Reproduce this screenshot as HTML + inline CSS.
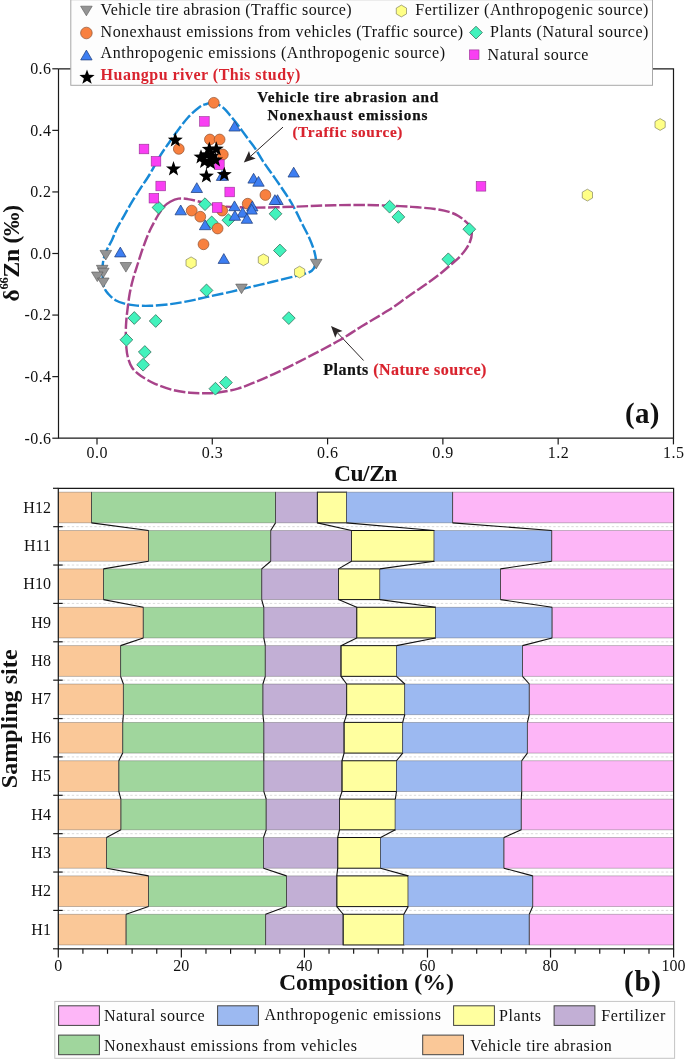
<!DOCTYPE html>
<html><head><meta charset="utf-8"><title>Figure</title><style>html,body{margin:0;padding:0;background:#fff;}svg{display:block;will-change:transform;}text{font-family:"Liberation Serif", serif;}</style></head><body>
<svg width="685" height="1059" viewBox="0 0 685 1059" font-family='"Liberation Serif", serif'>
<rect width="685" height="1059" fill="#fff"/>
<line x1="283.0" y1="127.1" x2="250.64" y2="156.24" stroke="#2b2626" stroke-width="1.0"/>
<polygon points="243.8,162.4 249.00,150.99 250.64,156.24 255.69,158.42" fill="#2b2626"/>
<line x1="363.6" y1="360.5" x2="337.32" y2="332.69" stroke="#2b2626" stroke-width="1.0"/>
<polygon points="331.0,326.0 342.53,330.92 337.32,332.69 335.26,337.79" fill="#2b2626"/>
<path d="M213.50,102.60 C215.83,102.90 218.58,104.68 220.50,105.80 C222.42,106.92 223.28,107.57 225.00,109.30 C226.72,111.03 228.85,113.85 230.80,116.20 C232.75,118.55 234.83,121.00 236.70,123.40 C238.57,125.80 240.03,127.92 242.00,130.60 C243.97,133.28 246.30,136.52 248.50,139.50 C250.70,142.48 252.80,144.90 255.20,148.50 C257.60,152.10 260.07,156.80 262.90,161.10 C265.73,165.40 269.12,169.90 272.20,174.30 C275.28,178.70 278.55,183.32 281.40,187.50 C284.25,191.68 286.87,195.43 289.30,199.40 C291.73,203.37 293.80,207.12 296.00,211.30 C298.20,215.48 300.30,220.10 302.50,224.50 C304.70,228.90 307.32,233.52 309.20,237.70 C311.08,241.88 312.70,246.07 313.80,249.60 C314.90,253.13 315.58,256.25 315.80,258.90 C316.02,261.55 315.77,263.52 315.10,265.50 C314.43,267.48 313.45,269.45 311.80,270.80 C310.15,272.15 308.07,272.68 305.20,273.60 C302.33,274.52 300.03,274.93 294.60,276.30 C289.17,277.67 279.67,280.08 272.60,281.80 C265.53,283.52 259.02,284.97 252.20,286.60 C245.38,288.23 239.20,289.88 231.70,291.60 C224.20,293.32 214.00,295.40 207.20,296.90 C200.40,298.40 197.03,299.40 190.90,300.60 C184.77,301.80 177.22,303.23 170.40,304.10 C163.58,304.97 155.90,305.58 150.00,305.80 C144.10,306.02 139.25,305.77 135.00,305.40 C130.75,305.03 127.75,304.47 124.50,303.60 C121.25,302.73 118.18,301.80 115.50,300.20 C112.82,298.60 110.28,296.12 108.40,294.00 C106.52,291.88 105.17,290.50 104.20,287.50 C103.23,284.50 102.85,279.75 102.60,276.00 C102.35,272.25 102.42,268.25 102.70,265.00 C102.98,261.75 103.50,259.25 104.30,256.50 C105.10,253.75 106.22,251.25 107.50,248.50 C108.78,245.75 110.43,243.35 112.00,240.00 C113.57,236.65 114.85,232.52 116.90,228.40 C118.95,224.28 121.82,219.67 124.30,215.30 C126.78,210.93 129.13,206.65 131.80,202.20 C134.47,197.75 137.38,193.13 140.30,188.60 C143.22,184.07 145.95,180.53 149.30,175.00 C152.65,169.47 157.20,160.65 160.40,155.40 C163.60,150.15 165.73,147.48 168.50,143.50 C171.27,139.52 173.75,135.83 177.00,131.50 C180.25,127.17 184.28,121.55 188.00,117.50 C191.72,113.45 196.22,109.45 199.30,107.20 C202.38,104.95 204.13,104.77 206.50,104.00 C208.87,103.23 211.17,102.30 213.50,102.60 Z" fill="none" stroke="#1789D6" stroke-width="2.45" stroke-dasharray="11.5 2.7" stroke-dashoffset="4.0"/>
<path d="M170.20,201.70 C172.60,200.38 175.48,199.03 178.40,198.60 C181.32,198.17 184.10,198.58 187.70,199.10 C191.30,199.62 195.95,200.80 200.00,201.70 C204.05,202.60 207.83,203.68 212.00,204.50 C216.17,205.32 217.83,206.08 225.00,206.60 C232.17,207.12 243.40,207.58 255.00,207.60 C266.60,207.62 282.93,207.07 294.60,206.70 C306.27,206.33 314.93,205.68 325.00,205.40 C335.07,205.12 346.03,205.02 355.00,205.00 C363.97,204.98 371.30,205.12 378.80,205.30 C386.30,205.48 393.55,205.77 400.00,206.10 C406.45,206.43 411.67,206.82 417.50,207.30 C423.33,207.78 429.75,208.23 435.00,209.00 C440.25,209.77 445.10,210.73 449.00,211.90 C452.90,213.07 455.67,214.43 458.40,216.00 C461.13,217.57 463.47,219.55 465.40,221.30 C467.33,223.05 468.93,224.47 470.00,226.50 C471.07,228.53 471.80,230.97 471.80,233.50 C471.80,236.03 471.07,238.97 470.00,241.70 C468.93,244.43 467.33,247.17 465.40,249.90 C463.47,252.63 460.73,255.72 458.40,258.10 C456.07,260.48 454.32,261.68 451.40,264.20 C448.48,266.72 444.60,270.23 440.90,273.20 C437.20,276.17 433.28,279.07 429.20,282.00 C425.12,284.93 420.48,287.97 416.40,290.80 C412.32,293.63 409.50,295.67 404.70,299.00 C399.90,302.33 394.82,306.22 387.60,310.80 C380.38,315.38 369.27,321.68 361.40,326.50 C353.53,331.32 349.17,334.67 340.40,339.70 C331.63,344.73 318.45,351.67 308.80,356.70 C299.15,361.73 291.25,365.73 282.50,369.90 C273.75,374.07 263.73,378.58 256.30,381.70 C248.87,384.82 244.27,386.78 237.90,388.60 C231.53,390.42 223.73,391.82 218.10,392.60 C212.47,393.38 208.77,393.27 204.10,393.30 C199.43,393.33 195.35,393.37 190.10,392.80 C184.85,392.23 178.45,391.40 172.60,389.90 C166.75,388.40 160.27,386.13 155.00,383.80 C149.73,381.47 144.78,378.53 141.00,375.90 C137.22,373.27 134.48,371.07 132.30,368.00 C130.12,364.93 128.90,361.00 127.90,357.50 C126.90,354.00 126.65,351.25 126.30,347.00 C125.95,342.75 125.80,336.38 125.80,332.00 C125.80,327.62 126.02,324.47 126.30,320.70 C126.58,316.93 126.93,313.93 127.50,309.40 C128.07,304.87 128.77,298.60 129.70,293.50 C130.63,288.40 131.77,283.72 133.10,278.80 C134.43,273.88 136.00,269.30 137.70,264.00 C139.40,258.70 141.23,252.67 143.30,247.00 C145.37,241.33 147.57,235.42 150.10,230.00 C152.63,224.58 156.18,218.42 158.50,214.50 C160.82,210.58 162.05,208.63 164.00,206.50 C165.95,204.37 167.80,203.02 170.20,201.70 Z" fill="none" stroke="#A8438A" stroke-width="2.45" stroke-dasharray="11.5 2.7" stroke-dashoffset="0.0"/>
<polygon points="100.00,250.40 111.60,250.40 105.80,260.00" fill="#949494" stroke="#555555" stroke-width="0.6"/>
<polygon points="96.40,265.30 108.00,265.30 102.20,274.90" fill="#949494" stroke="#555555" stroke-width="0.6"/>
<polygon points="97.50,268.20 109.10,268.20 103.30,277.80" fill="#949494" stroke="#555555" stroke-width="0.6"/>
<polygon points="91.50,272.00 103.10,272.00 97.30,281.60" fill="#949494" stroke="#555555" stroke-width="0.6"/>
<polygon points="97.50,278.00 109.10,278.00 103.30,287.60" fill="#949494" stroke="#555555" stroke-width="0.6"/>
<polygon points="120.10,262.50 131.70,262.50 125.90,272.10" fill="#949494" stroke="#555555" stroke-width="0.6"/>
<polygon points="235.70,284.10 247.30,284.10 241.50,293.70" fill="#949494" stroke="#555555" stroke-width="0.6"/>
<polygon points="310.40,259.30 322.00,259.30 316.20,268.90" fill="#949494" stroke="#555555" stroke-width="0.6"/>
<polygon points="191.10,256.90 185.99,259.85 185.99,265.75 191.10,268.70 196.21,265.75 196.21,259.85" fill="#FFFF86" stroke="#707050" stroke-width="0.6"/>
<polygon points="263.40,253.90 258.29,256.85 258.29,262.75 263.40,265.70 268.51,262.75 268.51,256.85" fill="#FFFF86" stroke="#707050" stroke-width="0.6"/>
<polygon points="299.60,266.20 294.49,269.15 294.49,275.05 299.60,278.00 304.71,275.05 304.71,269.15" fill="#FFFF86" stroke="#707050" stroke-width="0.6"/>
<polygon points="587.40,189.20 582.29,192.15 582.29,198.05 587.40,201.00 592.51,198.05 592.51,192.15" fill="#FFFF86" stroke="#707050" stroke-width="0.6"/>
<polygon points="660.10,118.60 654.99,121.55 654.99,127.45 660.10,130.40 665.21,127.45 665.21,121.55" fill="#FFFF86" stroke="#707050" stroke-width="0.6"/>
<polygon points="158.50,201.10 164.90,207.50 158.50,213.90 152.10,207.50" fill="#42F2BC" stroke="#2a5e4c" stroke-width="0.7"/>
<polygon points="205.00,197.80 211.40,204.20 205.00,210.60 198.60,204.20" fill="#42F2BC" stroke="#2a5e4c" stroke-width="0.7"/>
<polygon points="211.70,216.00 218.10,222.40 211.70,228.80 205.30,222.40" fill="#42F2BC" stroke="#2a5e4c" stroke-width="0.7"/>
<polygon points="228.40,213.80 234.80,220.20 228.40,226.60 222.00,220.20" fill="#42F2BC" stroke="#2a5e4c" stroke-width="0.7"/>
<polygon points="275.50,207.40 281.90,213.80 275.50,220.20 269.10,213.80" fill="#42F2BC" stroke="#2a5e4c" stroke-width="0.7"/>
<polygon points="279.90,244.10 286.30,250.50 279.90,256.90 273.50,250.50" fill="#42F2BC" stroke="#2a5e4c" stroke-width="0.7"/>
<polygon points="206.50,284.00 212.90,290.40 206.50,296.80 200.10,290.40" fill="#42F2BC" stroke="#2a5e4c" stroke-width="0.7"/>
<polygon points="288.80,311.70 295.20,318.10 288.80,324.50 282.40,318.10" fill="#42F2BC" stroke="#2a5e4c" stroke-width="0.7"/>
<polygon points="134.30,311.60 140.70,318.00 134.30,324.40 127.90,318.00" fill="#42F2BC" stroke="#2a5e4c" stroke-width="0.7"/>
<polygon points="155.70,314.60 162.10,321.00 155.70,327.40 149.30,321.00" fill="#42F2BC" stroke="#2a5e4c" stroke-width="0.7"/>
<polygon points="126.40,333.40 132.80,339.80 126.40,346.20 120.00,339.80" fill="#42F2BC" stroke="#2a5e4c" stroke-width="0.7"/>
<polygon points="144.80,345.60 151.20,352.00 144.80,358.40 138.40,352.00" fill="#42F2BC" stroke="#2a5e4c" stroke-width="0.7"/>
<polygon points="143.10,358.30 149.50,364.70 143.10,371.10 136.70,364.70" fill="#42F2BC" stroke="#2a5e4c" stroke-width="0.7"/>
<polygon points="215.40,382.30 221.80,388.70 215.40,395.10 209.00,388.70" fill="#42F2BC" stroke="#2a5e4c" stroke-width="0.7"/>
<polygon points="225.90,376.20 232.30,382.60 225.90,389.00 219.50,382.60" fill="#42F2BC" stroke="#2a5e4c" stroke-width="0.7"/>
<polygon points="389.60,200.30 396.00,206.70 389.60,213.10 383.20,206.70" fill="#42F2BC" stroke="#2a5e4c" stroke-width="0.7"/>
<polygon points="398.40,210.50 404.80,216.90 398.40,223.30 392.00,216.90" fill="#42F2BC" stroke="#2a5e4c" stroke-width="0.7"/>
<polygon points="469.30,222.80 475.70,229.20 469.30,235.60 462.90,229.20" fill="#42F2BC" stroke="#2a5e4c" stroke-width="0.7"/>
<polygon points="448.30,252.90 454.70,259.30 448.30,265.70 441.90,259.30" fill="#42F2BC" stroke="#2a5e4c" stroke-width="0.7"/>
<rect x="199.60" y="116.60" width="9.6" height="9.6" fill="#F93FF3" stroke="#93308F" stroke-width="0.6"/>
<rect x="139.20" y="144.20" width="9.6" height="9.6" fill="#F93FF3" stroke="#93308F" stroke-width="0.6"/>
<rect x="151.20" y="156.50" width="9.6" height="9.6" fill="#F93FF3" stroke="#93308F" stroke-width="0.6"/>
<rect x="155.90" y="181.20" width="9.6" height="9.6" fill="#F93FF3" stroke="#93308F" stroke-width="0.6"/>
<rect x="149.10" y="193.40" width="9.6" height="9.6" fill="#F93FF3" stroke="#93308F" stroke-width="0.6"/>
<rect x="224.90" y="187.20" width="9.6" height="9.6" fill="#F93FF3" stroke="#93308F" stroke-width="0.6"/>
<rect x="476.20" y="181.50" width="9.6" height="9.6" fill="#F93FF3" stroke="#93308F" stroke-width="0.6"/>
<circle cx="213.8" cy="102.8" r="5.4" fill="#F8803F" stroke="#8E5030" stroke-width="0.7"/>
<circle cx="209.9" cy="139.5" r="5.4" fill="#F8803F" stroke="#8E5030" stroke-width="0.7"/>
<circle cx="219.6" cy="139.5" r="5.4" fill="#F8803F" stroke="#8E5030" stroke-width="0.7"/>
<circle cx="178.8" cy="148.9" r="5.4" fill="#F8803F" stroke="#8E5030" stroke-width="0.7"/>
<circle cx="222.8" cy="154.5" r="5.4" fill="#F8803F" stroke="#8E5030" stroke-width="0.7"/>
<circle cx="265.4" cy="195.0" r="5.4" fill="#F8803F" stroke="#8E5030" stroke-width="0.7"/>
<circle cx="247.7" cy="203.7" r="5.4" fill="#F8803F" stroke="#8E5030" stroke-width="0.7"/>
<circle cx="191.7" cy="210.6" r="5.4" fill="#F8803F" stroke="#8E5030" stroke-width="0.7"/>
<circle cx="200.3" cy="216.7" r="5.4" fill="#F8803F" stroke="#8E5030" stroke-width="0.7"/>
<circle cx="222.2" cy="210.6" r="5.4" fill="#F8803F" stroke="#8E5030" stroke-width="0.7"/>
<circle cx="217.6" cy="228.5" r="5.4" fill="#F8803F" stroke="#8E5030" stroke-width="0.7"/>
<circle cx="203.5" cy="244.3" r="5.4" fill="#F8803F" stroke="#8E5030" stroke-width="0.7"/>
<rect x="212.40" y="202.70" width="9.6" height="9.6" fill="#F93FF3" stroke="#93308F" stroke-width="0.6"/>
<rect x="214.60" y="159.80" width="9.6" height="9.6" fill="#F93FF3" stroke="#93308F" stroke-width="0.6"/>
<polygon points="228.90,131.00 240.30,131.00 234.60,121.20" fill="#3D7EF2" stroke="#22407e" stroke-width="0.75"/>
<polygon points="288.00,177.00 299.40,177.00 293.70,167.20" fill="#3D7EF2" stroke="#22407e" stroke-width="0.75"/>
<polygon points="247.90,183.10 259.30,183.10 253.60,173.30" fill="#3D7EF2" stroke="#22407e" stroke-width="0.75"/>
<polygon points="252.80,186.20 264.20,186.20 258.50,176.40" fill="#3D7EF2" stroke="#22407e" stroke-width="0.75"/>
<polygon points="191.10,192.50 202.50,192.50 196.80,182.70" fill="#3D7EF2" stroke="#22407e" stroke-width="0.75"/>
<polygon points="271.80,204.50 283.20,204.50 277.50,194.70" fill="#3D7EF2" stroke="#22407e" stroke-width="0.75"/>
<polygon points="269.20,204.50 280.60,204.50 274.90,194.70" fill="#3D7EF2" stroke="#22407e" stroke-width="0.75"/>
<polygon points="228.80,210.70 240.20,210.70 234.50,200.90" fill="#3D7EF2" stroke="#22407e" stroke-width="0.75"/>
<polygon points="246.60,210.90 258.00,210.90 252.30,201.10" fill="#3D7EF2" stroke="#22407e" stroke-width="0.75"/>
<polygon points="245.90,214.10 257.30,214.10 251.60,204.30" fill="#3D7EF2" stroke="#22407e" stroke-width="0.75"/>
<polygon points="236.90,217.20 248.30,217.20 242.60,207.40" fill="#3D7EF2" stroke="#22407e" stroke-width="0.75"/>
<polygon points="229.20,220.30 240.60,220.30 234.90,210.50" fill="#3D7EF2" stroke="#22407e" stroke-width="0.75"/>
<polygon points="241.20,223.30 252.60,223.30 246.90,213.50" fill="#3D7EF2" stroke="#22407e" stroke-width="0.75"/>
<polygon points="199.40,229.70 210.80,229.70 205.10,219.90" fill="#3D7EF2" stroke="#22407e" stroke-width="0.75"/>
<polygon points="175.00,214.80 186.40,214.80 180.70,205.00" fill="#3D7EF2" stroke="#22407e" stroke-width="0.75"/>
<polygon points="218.10,263.40 229.50,263.40 223.80,253.60" fill="#3D7EF2" stroke="#22407e" stroke-width="0.75"/>
<polygon points="114.60,256.90 126.00,256.90 120.30,247.10" fill="#3D7EF2" stroke="#22407e" stroke-width="0.75"/>
<polygon points="216.30,180.40 227.70,180.40 222.00,170.60" fill="#3D7EF2" stroke="#22407e" stroke-width="0.75"/>
<polygon points="175.30,132.30 173.40,137.58 167.79,137.76 172.22,141.20 170.66,146.59 175.30,143.44 179.94,146.59 178.38,141.20 182.81,137.76 177.20,137.58" fill="#000"/>
<polygon points="173.50,161.10 171.60,166.38 165.99,166.56 170.42,170.00 168.86,175.39 173.50,172.24 178.14,175.39 176.58,170.00 181.01,166.56 175.40,166.38" fill="#000"/>
<polygon points="206.40,168.30 204.50,173.58 198.89,173.76 203.32,177.20 201.76,182.59 206.40,179.44 211.04,182.59 209.48,177.20 213.91,173.76 208.30,173.58" fill="#000"/>
<polygon points="224.30,166.70 222.40,171.98 216.79,172.16 221.22,175.60 219.66,180.99 224.30,177.84 228.94,180.99 227.38,175.60 231.81,172.16 226.20,171.98" fill="#000"/>
<polygon points="209.30,141.50 207.40,146.78 201.79,146.96 206.22,150.40 204.66,155.79 209.30,152.64 213.94,155.79 212.38,150.40 216.81,146.96 211.20,146.78" fill="#000"/>
<polygon points="216.30,141.20 214.40,146.48 208.79,146.66 213.22,150.10 211.66,155.49 216.30,152.34 220.94,155.49 219.38,150.10 223.81,146.66 218.20,146.48" fill="#000"/>
<polygon points="201.00,149.20 199.10,154.48 193.49,154.66 197.92,158.10 196.36,163.49 201.00,160.34 205.64,163.49 204.08,158.10 208.51,154.66 202.90,154.48" fill="#000"/>
<polygon points="206.80,147.00 204.90,152.28 199.29,152.46 203.72,155.90 202.16,161.29 206.80,158.14 211.44,161.29 209.88,155.90 214.31,152.46 208.70,152.28" fill="#000"/>
<polygon points="211.90,148.40 210.00,153.68 204.39,153.86 208.82,157.30 207.26,162.69 211.90,159.54 216.54,162.69 214.98,157.30 219.41,153.86 213.80,153.68" fill="#000"/>
<polygon points="204.60,153.60 202.70,158.88 197.09,159.06 201.52,162.50 199.96,167.89 204.60,164.74 209.24,167.89 207.68,162.50 212.11,159.06 206.50,158.88" fill="#000"/>
<polygon points="210.40,155.00 208.50,160.28 202.89,160.46 207.32,163.90 205.76,169.29 210.40,166.14 215.04,169.29 213.48,163.90 217.91,160.46 212.30,160.28" fill="#000"/>
<polygon points="215.50,152.10 213.60,157.38 207.99,157.56 212.42,161.00 210.86,166.39 215.50,163.24 220.14,166.39 218.58,161.00 223.01,157.56 217.40,157.38" fill="#000"/>
<path d="M58.5,68.8 L58.5,438.2 L673.5,438.2 L673.5,68.8 L58.5,68.8" fill="none" stroke="#1a1a1a" stroke-width="1.2"/>
<line x1="52.3" y1="68.80" x2="58.5" y2="68.80" stroke="#1a1a1a" stroke-width="1.2"/>
<text x="51.0" y="74.10" font-size="16" font-weight="normal" fill="#111" text-anchor="end" textLength="20.8" lengthAdjust="spacing">0.6</text>
<line x1="52.3" y1="130.37" x2="58.5" y2="130.37" stroke="#1a1a1a" stroke-width="1.2"/>
<text x="51.0" y="135.67" font-size="16" font-weight="normal" fill="#111" text-anchor="end" textLength="20.8" lengthAdjust="spacing">0.4</text>
<line x1="52.3" y1="191.93" x2="58.5" y2="191.93" stroke="#1a1a1a" stroke-width="1.2"/>
<text x="51.0" y="197.23" font-size="16" font-weight="normal" fill="#111" text-anchor="end" textLength="20.8" lengthAdjust="spacing">0.2</text>
<line x1="52.3" y1="253.50" x2="58.5" y2="253.50" stroke="#1a1a1a" stroke-width="1.2"/>
<text x="51.0" y="258.80" font-size="16" font-weight="normal" fill="#111" text-anchor="end" textLength="20.8" lengthAdjust="spacing">0.0</text>
<line x1="52.3" y1="315.07" x2="58.5" y2="315.07" stroke="#1a1a1a" stroke-width="1.2"/>
<text x="51.0" y="320.37" font-size="16" font-weight="normal" fill="#111" text-anchor="end" textLength="26.4" lengthAdjust="spacing">-0.2</text>
<line x1="52.3" y1="376.63" x2="58.5" y2="376.63" stroke="#1a1a1a" stroke-width="1.2"/>
<text x="51.0" y="381.93" font-size="16" font-weight="normal" fill="#111" text-anchor="end" textLength="26.4" lengthAdjust="spacing">-0.4</text>
<line x1="52.3" y1="438.20" x2="58.5" y2="438.20" stroke="#1a1a1a" stroke-width="1.2"/>
<text x="51.0" y="443.50" font-size="16" font-weight="normal" fill="#111" text-anchor="end" textLength="26.4" lengthAdjust="spacing">-0.6</text>
<line x1="97.00" y1="438.2" x2="97.00" y2="444.4" stroke="#1a1a1a" stroke-width="1.2"/>
<text x="97.00" y="458.0" font-size="16" font-weight="normal" fill="#111" text-anchor="middle" textLength="21" lengthAdjust="spacing">0.0</text>
<line x1="212.29" y1="438.2" x2="212.29" y2="444.4" stroke="#1a1a1a" stroke-width="1.2"/>
<text x="212.29" y="458.0" font-size="16" font-weight="normal" fill="#111" text-anchor="middle" textLength="21" lengthAdjust="spacing">0.3</text>
<line x1="327.58" y1="438.2" x2="327.58" y2="444.4" stroke="#1a1a1a" stroke-width="1.2"/>
<text x="327.58" y="458.0" font-size="16" font-weight="normal" fill="#111" text-anchor="middle" textLength="21" lengthAdjust="spacing">0.6</text>
<line x1="442.87" y1="438.2" x2="442.87" y2="444.4" stroke="#1a1a1a" stroke-width="1.2"/>
<text x="442.87" y="458.0" font-size="16" font-weight="normal" fill="#111" text-anchor="middle" textLength="21" lengthAdjust="spacing">0.9</text>
<line x1="558.16" y1="438.2" x2="558.16" y2="444.4" stroke="#1a1a1a" stroke-width="1.2"/>
<text x="558.16" y="458.0" font-size="16" font-weight="normal" fill="#111" text-anchor="middle" textLength="21" lengthAdjust="spacing">1.2</text>
<line x1="673.45" y1="438.2" x2="673.45" y2="444.4" stroke="#1a1a1a" stroke-width="1.2"/>
<text x="673.45" y="458.0" font-size="16" font-weight="normal" fill="#111" text-anchor="middle" textLength="21" lengthAdjust="spacing">1.5</text>
<text x="365.7" y="481.0" font-size="23.5" font-weight="bold" fill="#111" text-anchor="middle" textLength="63.5" lengthAdjust="spacing">Cu/Zn</text>
<text transform="translate(18.6,253.2) rotate(-90)" text-anchor="middle" font-size="23.5" font-weight="bold" fill="#111" textLength="96.6" lengthAdjust="spacing">&#948;<tspan font-size="12.5" dy="-10.5">66</tspan><tspan dy="10.5">Zn (&#8240;)</tspan></text>
<text x="659.5" y="422.7" font-size="29" font-weight="bold" fill="#111" text-anchor="end" textLength="34.5" lengthAdjust="spacing">(a)</text>
<text x="347.8" y="101.9" font-size="15.2" font-weight="bold" fill="#111" text-anchor="middle" textLength="181" lengthAdjust="spacing" stroke="#111" stroke-width="0.25">Vehicle tire abrasion and</text>
<text x="347.5" y="119.7" font-size="15.2" font-weight="bold" fill="#111" text-anchor="middle" textLength="160" lengthAdjust="spacing" stroke="#111" stroke-width="0.25">Nonexhaust emissions</text>
<text x="347.4" y="137.4" font-size="15.2" font-weight="bold" fill="#D9232E" text-anchor="middle" textLength="110" lengthAdjust="spacing" stroke="#D9232E" stroke-width="0.2">(Traffic source)</text>
<text x="323.3" y="375.0" font-size="16" font-weight="bold" fill="#111" stroke="#111" stroke-width="0.2" textLength="163" lengthAdjust="spacing">Plants <tspan fill="#D9232E" stroke="#D9232E">(Nature source)</tspan></text>
<rect x="70.8" y="-0.3" width="581.7" height="85.6" fill="#fdfdfd" stroke="#a8a8a8" stroke-width="1"/>
<polygon points="80.60,6.20 92.20,6.20 86.40,15.80" fill="#949494" stroke="#555555" stroke-width="0.6"/>
<circle cx="86.4" cy="33.0" r="5.8" fill="#F8803F" stroke="#8E5030" stroke-width="0.7"/>
<polygon points="80.70,59.90 92.10,59.90 86.40,50.10" fill="#3D7EF2" stroke="#22407e" stroke-width="0.75"/>
<polygon points="87.00,69.40 85.07,74.75 79.39,74.93 83.88,78.41 82.30,83.87 87.00,80.68 91.70,83.87 90.12,78.41 94.61,74.93 88.93,74.75" fill="#000"/>
<polygon points="401.40,5.10 396.29,8.05 396.29,13.95 401.40,16.90 406.51,13.95 406.51,8.05" fill="#FFFF86" stroke="#707050" stroke-width="0.6"/>
<polygon points="476.00,26.20 482.40,32.60 476.00,39.00 469.60,32.60" fill="#42F2BC" stroke="#2a5e4c" stroke-width="0.7"/>
<rect x="469.40" y="49.90" width="9.6" height="9.6" fill="#F93FF3" stroke="#93308F" stroke-width="0.6"/>
<text x="100.6" y="14.9" font-size="16" font-weight="normal" fill="#111" text-anchor="start" textLength="251" lengthAdjust="spacing">Vehicle tire abrasion (Traffic source)</text>
<text x="100.6" y="36.5" font-size="16" font-weight="normal" fill="#111" text-anchor="start" textLength="362.6" lengthAdjust="spacing">Nonexhaust emissions from vehicles (Traffic source)</text>
<text x="100.6" y="58.2" font-size="16" font-weight="normal" fill="#111" text-anchor="start" textLength="344.4" lengthAdjust="spacing">Anthropogenic emissions (Anthropogenic source)</text>
<text x="100.6" y="79.7" font-size="16" font-weight="bold" fill="#D9232E" text-anchor="start" textLength="199.8" lengthAdjust="spacing">Huangpu river (This study)</text>
<text x="415.2" y="14.9" font-size="16" font-weight="normal" fill="#111" text-anchor="start" textLength="233.2" lengthAdjust="spacing">Fertilizer (Anthropogenic source)</text>
<text x="490.0" y="36.5" font-size="16" font-weight="normal" fill="#111" text-anchor="start" textLength="158.4" lengthAdjust="spacing">Plants (Natural source)</text>
<text x="487.6" y="60.0" font-size="16" font-weight="normal" fill="#111" text-anchor="start" textLength="100.8" lengthAdjust="spacing">Natural source</text>
<line x1="58.3" y1="526.67" x2="673.6" y2="526.67" stroke="#dadada" stroke-width="1" stroke-dasharray="2.4 2.1"/>
<line x1="58.3" y1="565.05" x2="673.6" y2="565.05" stroke="#dadada" stroke-width="1" stroke-dasharray="2.4 2.1"/>
<line x1="58.3" y1="603.42" x2="673.6" y2="603.42" stroke="#dadada" stroke-width="1" stroke-dasharray="2.4 2.1"/>
<line x1="58.3" y1="641.80" x2="673.6" y2="641.80" stroke="#dadada" stroke-width="1" stroke-dasharray="2.4 2.1"/>
<line x1="58.3" y1="680.17" x2="673.6" y2="680.17" stroke="#dadada" stroke-width="1" stroke-dasharray="2.4 2.1"/>
<line x1="58.3" y1="718.55" x2="673.6" y2="718.55" stroke="#dadada" stroke-width="1" stroke-dasharray="2.4 2.1"/>
<line x1="58.3" y1="756.92" x2="673.6" y2="756.92" stroke="#dadada" stroke-width="1" stroke-dasharray="2.4 2.1"/>
<line x1="58.3" y1="795.30" x2="673.6" y2="795.30" stroke="#dadada" stroke-width="1" stroke-dasharray="2.4 2.1"/>
<line x1="58.3" y1="833.67" x2="673.6" y2="833.67" stroke="#dadada" stroke-width="1" stroke-dasharray="2.4 2.1"/>
<line x1="58.3" y1="872.05" x2="673.6" y2="872.05" stroke="#dadada" stroke-width="1" stroke-dasharray="2.4 2.1"/>
<line x1="58.3" y1="910.42" x2="673.6" y2="910.42" stroke="#dadada" stroke-width="1" stroke-dasharray="2.4 2.1"/>
<rect x="58.30" y="492.14" width="33.20" height="30.70" fill="#FAC898" stroke="rgba(70,70,70,0.4)" stroke-width="0.8"/>
<rect x="91.50" y="492.14" width="184.00" height="30.70" fill="#A0D69D" stroke="rgba(70,70,70,0.4)" stroke-width="0.8"/>
<rect x="275.50" y="492.14" width="41.90" height="30.70" fill="#C2AFD5" stroke="rgba(70,70,70,0.4)" stroke-width="0.8"/>
<rect x="317.40" y="492.14" width="29.20" height="30.70" fill="#FFFF9F" stroke="#111" stroke-width="1"/>
<rect x="346.60" y="492.14" width="106.00" height="30.70" fill="#9CB9F1" stroke="rgba(70,70,70,0.4)" stroke-width="0.8"/>
<rect x="452.60" y="492.14" width="221.00" height="30.70" fill="#FDB6F7" stroke="rgba(70,70,70,0.4)" stroke-width="0.8"/>
<line x1="91.50" y1="492.14" x2="91.50" y2="522.84" stroke="#3a3a3a" stroke-width="0.8"/>
<line x1="275.50" y1="492.14" x2="275.50" y2="522.84" stroke="#3a3a3a" stroke-width="0.8"/>
<line x1="317.40" y1="492.14" x2="317.40" y2="522.84" stroke="#3a3a3a" stroke-width="0.8"/>
<line x1="452.60" y1="492.14" x2="452.60" y2="522.84" stroke="#3a3a3a" stroke-width="0.8"/>
<text x="50.9" y="512.59" font-size="16" font-weight="normal" fill="#111" text-anchor="end">H12</text>
<rect x="58.30" y="530.51" width="90.20" height="30.70" fill="#FAC898" stroke="rgba(70,70,70,0.4)" stroke-width="0.8"/>
<rect x="148.50" y="530.51" width="122.20" height="30.70" fill="#A0D69D" stroke="rgba(70,70,70,0.4)" stroke-width="0.8"/>
<rect x="270.70" y="530.51" width="80.80" height="30.70" fill="#C2AFD5" stroke="rgba(70,70,70,0.4)" stroke-width="0.8"/>
<rect x="351.50" y="530.51" width="82.70" height="30.70" fill="#FFFF9F" stroke="#111" stroke-width="1"/>
<rect x="434.20" y="530.51" width="117.50" height="30.70" fill="#9CB9F1" stroke="rgba(70,70,70,0.4)" stroke-width="0.8"/>
<rect x="551.70" y="530.51" width="121.90" height="30.70" fill="#FDB6F7" stroke="rgba(70,70,70,0.4)" stroke-width="0.8"/>
<line x1="148.50" y1="530.51" x2="148.50" y2="561.21" stroke="#3a3a3a" stroke-width="0.8"/>
<line x1="270.70" y1="530.51" x2="270.70" y2="561.21" stroke="#3a3a3a" stroke-width="0.8"/>
<line x1="351.50" y1="530.51" x2="351.50" y2="561.21" stroke="#3a3a3a" stroke-width="0.8"/>
<line x1="551.70" y1="530.51" x2="551.70" y2="561.21" stroke="#3a3a3a" stroke-width="0.8"/>
<text x="50.9" y="550.96" font-size="16" font-weight="normal" fill="#111" text-anchor="end">H11</text>
<rect x="58.30" y="568.89" width="45.20" height="30.70" fill="#FAC898" stroke="rgba(70,70,70,0.4)" stroke-width="0.8"/>
<rect x="103.50" y="568.89" width="158.20" height="30.70" fill="#A0D69D" stroke="rgba(70,70,70,0.4)" stroke-width="0.8"/>
<rect x="261.70" y="568.89" width="76.80" height="30.70" fill="#C2AFD5" stroke="rgba(70,70,70,0.4)" stroke-width="0.8"/>
<rect x="338.50" y="568.89" width="41.50" height="30.70" fill="#FFFF9F" stroke="#111" stroke-width="1"/>
<rect x="380.00" y="568.89" width="120.50" height="30.70" fill="#9CB9F1" stroke="rgba(70,70,70,0.4)" stroke-width="0.8"/>
<rect x="500.50" y="568.89" width="173.10" height="30.70" fill="#FDB6F7" stroke="rgba(70,70,70,0.4)" stroke-width="0.8"/>
<line x1="103.50" y1="568.89" x2="103.50" y2="599.59" stroke="#3a3a3a" stroke-width="0.8"/>
<line x1="261.70" y1="568.89" x2="261.70" y2="599.59" stroke="#3a3a3a" stroke-width="0.8"/>
<line x1="338.50" y1="568.89" x2="338.50" y2="599.59" stroke="#3a3a3a" stroke-width="0.8"/>
<line x1="500.50" y1="568.89" x2="500.50" y2="599.59" stroke="#3a3a3a" stroke-width="0.8"/>
<text x="50.9" y="589.34" font-size="16" font-weight="normal" fill="#111" text-anchor="end">H10</text>
<rect x="58.30" y="607.26" width="85.00" height="30.70" fill="#FAC898" stroke="rgba(70,70,70,0.4)" stroke-width="0.8"/>
<rect x="143.30" y="607.26" width="120.50" height="30.70" fill="#A0D69D" stroke="rgba(70,70,70,0.4)" stroke-width="0.8"/>
<rect x="263.80" y="607.26" width="92.90" height="30.70" fill="#C2AFD5" stroke="rgba(70,70,70,0.4)" stroke-width="0.8"/>
<rect x="356.70" y="607.26" width="78.80" height="30.70" fill="#FFFF9F" stroke="#111" stroke-width="1"/>
<rect x="435.50" y="607.26" width="116.60" height="30.70" fill="#9CB9F1" stroke="rgba(70,70,70,0.4)" stroke-width="0.8"/>
<rect x="552.10" y="607.26" width="121.50" height="30.70" fill="#FDB6F7" stroke="rgba(70,70,70,0.4)" stroke-width="0.8"/>
<line x1="143.30" y1="607.26" x2="143.30" y2="637.96" stroke="#3a3a3a" stroke-width="0.8"/>
<line x1="263.80" y1="607.26" x2="263.80" y2="637.96" stroke="#3a3a3a" stroke-width="0.8"/>
<line x1="356.70" y1="607.26" x2="356.70" y2="637.96" stroke="#3a3a3a" stroke-width="0.8"/>
<line x1="552.10" y1="607.26" x2="552.10" y2="637.96" stroke="#3a3a3a" stroke-width="0.8"/>
<text x="50.9" y="627.71" font-size="16" font-weight="normal" fill="#111" text-anchor="end">H9</text>
<rect x="58.30" y="645.64" width="62.30" height="30.70" fill="#FAC898" stroke="rgba(70,70,70,0.4)" stroke-width="0.8"/>
<rect x="120.60" y="645.64" width="144.70" height="30.70" fill="#A0D69D" stroke="rgba(70,70,70,0.4)" stroke-width="0.8"/>
<rect x="265.30" y="645.64" width="75.70" height="30.70" fill="#C2AFD5" stroke="rgba(70,70,70,0.4)" stroke-width="0.8"/>
<rect x="341.00" y="645.64" width="55.50" height="30.70" fill="#FFFF9F" stroke="#111" stroke-width="1"/>
<rect x="396.50" y="645.64" width="126.00" height="30.70" fill="#9CB9F1" stroke="rgba(70,70,70,0.4)" stroke-width="0.8"/>
<rect x="522.50" y="645.64" width="151.10" height="30.70" fill="#FDB6F7" stroke="rgba(70,70,70,0.4)" stroke-width="0.8"/>
<line x1="120.60" y1="645.64" x2="120.60" y2="676.34" stroke="#3a3a3a" stroke-width="0.8"/>
<line x1="265.30" y1="645.64" x2="265.30" y2="676.34" stroke="#3a3a3a" stroke-width="0.8"/>
<line x1="341.00" y1="645.64" x2="341.00" y2="676.34" stroke="#3a3a3a" stroke-width="0.8"/>
<line x1="522.50" y1="645.64" x2="522.50" y2="676.34" stroke="#3a3a3a" stroke-width="0.8"/>
<text x="50.9" y="666.09" font-size="16" font-weight="normal" fill="#111" text-anchor="end">H8</text>
<rect x="58.30" y="684.01" width="65.10" height="30.70" fill="#FAC898" stroke="rgba(70,70,70,0.4)" stroke-width="0.8"/>
<rect x="123.40" y="684.01" width="139.50" height="30.70" fill="#A0D69D" stroke="rgba(70,70,70,0.4)" stroke-width="0.8"/>
<rect x="262.90" y="684.01" width="83.70" height="30.70" fill="#C2AFD5" stroke="rgba(70,70,70,0.4)" stroke-width="0.8"/>
<rect x="346.60" y="684.01" width="58.20" height="30.70" fill="#FFFF9F" stroke="#111" stroke-width="1"/>
<rect x="404.80" y="684.01" width="124.50" height="30.70" fill="#9CB9F1" stroke="rgba(70,70,70,0.4)" stroke-width="0.8"/>
<rect x="529.30" y="684.01" width="144.30" height="30.70" fill="#FDB6F7" stroke="rgba(70,70,70,0.4)" stroke-width="0.8"/>
<line x1="123.40" y1="684.01" x2="123.40" y2="714.71" stroke="#3a3a3a" stroke-width="0.8"/>
<line x1="262.90" y1="684.01" x2="262.90" y2="714.71" stroke="#3a3a3a" stroke-width="0.8"/>
<line x1="346.60" y1="684.01" x2="346.60" y2="714.71" stroke="#3a3a3a" stroke-width="0.8"/>
<line x1="529.30" y1="684.01" x2="529.30" y2="714.71" stroke="#3a3a3a" stroke-width="0.8"/>
<text x="50.9" y="704.46" font-size="16" font-weight="normal" fill="#111" text-anchor="end">H7</text>
<rect x="58.30" y="722.39" width="64.40" height="30.70" fill="#FAC898" stroke="rgba(70,70,70,0.4)" stroke-width="0.8"/>
<rect x="122.70" y="722.39" width="141.10" height="30.70" fill="#A0D69D" stroke="rgba(70,70,70,0.4)" stroke-width="0.8"/>
<rect x="263.80" y="722.39" width="80.30" height="30.70" fill="#C2AFD5" stroke="rgba(70,70,70,0.4)" stroke-width="0.8"/>
<rect x="344.10" y="722.39" width="58.60" height="30.70" fill="#FFFF9F" stroke="#111" stroke-width="1"/>
<rect x="402.70" y="722.39" width="124.70" height="30.70" fill="#9CB9F1" stroke="rgba(70,70,70,0.4)" stroke-width="0.8"/>
<rect x="527.40" y="722.39" width="146.20" height="30.70" fill="#FDB6F7" stroke="rgba(70,70,70,0.4)" stroke-width="0.8"/>
<line x1="122.70" y1="722.39" x2="122.70" y2="753.09" stroke="#3a3a3a" stroke-width="0.8"/>
<line x1="263.80" y1="722.39" x2="263.80" y2="753.09" stroke="#3a3a3a" stroke-width="0.8"/>
<line x1="344.10" y1="722.39" x2="344.10" y2="753.09" stroke="#3a3a3a" stroke-width="0.8"/>
<line x1="527.40" y1="722.39" x2="527.40" y2="753.09" stroke="#3a3a3a" stroke-width="0.8"/>
<text x="50.9" y="742.84" font-size="16" font-weight="normal" fill="#111" text-anchor="end">H6</text>
<rect x="58.30" y="760.76" width="60.50" height="30.70" fill="#FAC898" stroke="rgba(70,70,70,0.4)" stroke-width="0.8"/>
<rect x="118.80" y="760.76" width="145.00" height="30.70" fill="#A0D69D" stroke="rgba(70,70,70,0.4)" stroke-width="0.8"/>
<rect x="263.80" y="760.76" width="78.20" height="30.70" fill="#C2AFD5" stroke="rgba(70,70,70,0.4)" stroke-width="0.8"/>
<rect x="342.00" y="760.76" width="54.50" height="30.70" fill="#FFFF9F" stroke="#111" stroke-width="1"/>
<rect x="396.50" y="760.76" width="125.20" height="30.70" fill="#9CB9F1" stroke="rgba(70,70,70,0.4)" stroke-width="0.8"/>
<rect x="521.70" y="760.76" width="151.90" height="30.70" fill="#FDB6F7" stroke="rgba(70,70,70,0.4)" stroke-width="0.8"/>
<line x1="118.80" y1="760.76" x2="118.80" y2="791.46" stroke="#3a3a3a" stroke-width="0.8"/>
<line x1="263.80" y1="760.76" x2="263.80" y2="791.46" stroke="#3a3a3a" stroke-width="0.8"/>
<line x1="342.00" y1="760.76" x2="342.00" y2="791.46" stroke="#3a3a3a" stroke-width="0.8"/>
<line x1="521.70" y1="760.76" x2="521.70" y2="791.46" stroke="#3a3a3a" stroke-width="0.8"/>
<text x="50.9" y="781.21" font-size="16" font-weight="normal" fill="#111" text-anchor="end">H5</text>
<rect x="58.30" y="799.14" width="62.60" height="30.70" fill="#FAC898" stroke="rgba(70,70,70,0.4)" stroke-width="0.8"/>
<rect x="120.90" y="799.14" width="145.30" height="30.70" fill="#A0D69D" stroke="rgba(70,70,70,0.4)" stroke-width="0.8"/>
<rect x="266.20" y="799.14" width="73.30" height="30.70" fill="#C2AFD5" stroke="rgba(70,70,70,0.4)" stroke-width="0.8"/>
<rect x="339.50" y="799.14" width="55.80" height="30.70" fill="#FFFF9F" stroke="#111" stroke-width="1"/>
<rect x="395.30" y="799.14" width="126.00" height="30.70" fill="#9CB9F1" stroke="rgba(70,70,70,0.4)" stroke-width="0.8"/>
<rect x="521.30" y="799.14" width="152.30" height="30.70" fill="#FDB6F7" stroke="rgba(70,70,70,0.4)" stroke-width="0.8"/>
<line x1="120.90" y1="799.14" x2="120.90" y2="829.84" stroke="#3a3a3a" stroke-width="0.8"/>
<line x1="266.20" y1="799.14" x2="266.20" y2="829.84" stroke="#3a3a3a" stroke-width="0.8"/>
<line x1="339.50" y1="799.14" x2="339.50" y2="829.84" stroke="#3a3a3a" stroke-width="0.8"/>
<line x1="521.30" y1="799.14" x2="521.30" y2="829.84" stroke="#3a3a3a" stroke-width="0.8"/>
<text x="50.9" y="819.59" font-size="16" font-weight="normal" fill="#111" text-anchor="end">H4</text>
<rect x="58.30" y="837.51" width="48.20" height="30.70" fill="#FAC898" stroke="rgba(70,70,70,0.4)" stroke-width="0.8"/>
<rect x="106.50" y="837.51" width="157.00" height="30.70" fill="#A0D69D" stroke="rgba(70,70,70,0.4)" stroke-width="0.8"/>
<rect x="263.50" y="837.51" width="74.20" height="30.70" fill="#C2AFD5" stroke="rgba(70,70,70,0.4)" stroke-width="0.8"/>
<rect x="337.70" y="837.51" width="42.90" height="30.70" fill="#FFFF9F" stroke="#111" stroke-width="1"/>
<rect x="380.60" y="837.51" width="123.30" height="30.70" fill="#9CB9F1" stroke="rgba(70,70,70,0.4)" stroke-width="0.8"/>
<rect x="503.90" y="837.51" width="169.70" height="30.70" fill="#FDB6F7" stroke="rgba(70,70,70,0.4)" stroke-width="0.8"/>
<line x1="106.50" y1="837.51" x2="106.50" y2="868.21" stroke="#3a3a3a" stroke-width="0.8"/>
<line x1="263.50" y1="837.51" x2="263.50" y2="868.21" stroke="#3a3a3a" stroke-width="0.8"/>
<line x1="337.70" y1="837.51" x2="337.70" y2="868.21" stroke="#3a3a3a" stroke-width="0.8"/>
<line x1="503.90" y1="837.51" x2="503.90" y2="868.21" stroke="#3a3a3a" stroke-width="0.8"/>
<text x="50.9" y="857.96" font-size="16" font-weight="normal" fill="#111" text-anchor="end">H3</text>
<rect x="58.30" y="875.89" width="90.20" height="30.70" fill="#FAC898" stroke="rgba(70,70,70,0.4)" stroke-width="0.8"/>
<rect x="148.50" y="875.89" width="138.00" height="30.70" fill="#A0D69D" stroke="rgba(70,70,70,0.4)" stroke-width="0.8"/>
<rect x="286.50" y="875.89" width="50.30" height="30.70" fill="#C2AFD5" stroke="rgba(70,70,70,0.4)" stroke-width="0.8"/>
<rect x="336.80" y="875.89" width="71.40" height="30.70" fill="#FFFF9F" stroke="#111" stroke-width="1"/>
<rect x="408.20" y="875.89" width="124.50" height="30.70" fill="#9CB9F1" stroke="rgba(70,70,70,0.4)" stroke-width="0.8"/>
<rect x="532.70" y="875.89" width="140.90" height="30.70" fill="#FDB6F7" stroke="rgba(70,70,70,0.4)" stroke-width="0.8"/>
<line x1="148.50" y1="875.89" x2="148.50" y2="906.59" stroke="#3a3a3a" stroke-width="0.8"/>
<line x1="286.50" y1="875.89" x2="286.50" y2="906.59" stroke="#3a3a3a" stroke-width="0.8"/>
<line x1="336.80" y1="875.89" x2="336.80" y2="906.59" stroke="#3a3a3a" stroke-width="0.8"/>
<line x1="532.70" y1="875.89" x2="532.70" y2="906.59" stroke="#3a3a3a" stroke-width="0.8"/>
<text x="50.9" y="896.34" font-size="16" font-weight="normal" fill="#111" text-anchor="end">H2</text>
<rect x="58.30" y="914.26" width="67.80" height="30.70" fill="#FAC898" stroke="rgba(70,70,70,0.4)" stroke-width="0.8"/>
<rect x="126.10" y="914.26" width="139.50" height="30.70" fill="#A0D69D" stroke="rgba(70,70,70,0.4)" stroke-width="0.8"/>
<rect x="265.60" y="914.26" width="77.60" height="30.70" fill="#C2AFD5" stroke="rgba(70,70,70,0.4)" stroke-width="0.8"/>
<rect x="343.20" y="914.26" width="60.70" height="30.70" fill="#FFFF9F" stroke="#111" stroke-width="1"/>
<rect x="403.90" y="914.26" width="125.40" height="30.70" fill="#9CB9F1" stroke="rgba(70,70,70,0.4)" stroke-width="0.8"/>
<rect x="529.30" y="914.26" width="144.30" height="30.70" fill="#FDB6F7" stroke="rgba(70,70,70,0.4)" stroke-width="0.8"/>
<line x1="126.10" y1="914.26" x2="126.10" y2="944.96" stroke="#3a3a3a" stroke-width="0.8"/>
<line x1="265.60" y1="914.26" x2="265.60" y2="944.96" stroke="#3a3a3a" stroke-width="0.8"/>
<line x1="343.20" y1="914.26" x2="343.20" y2="944.96" stroke="#3a3a3a" stroke-width="0.8"/>
<line x1="529.30" y1="914.26" x2="529.30" y2="944.96" stroke="#3a3a3a" stroke-width="0.8"/>
<text x="50.9" y="934.71" font-size="16" font-weight="normal" fill="#111" text-anchor="end">H1</text>
<line x1="91.50" y1="522.84" x2="148.50" y2="530.51" stroke="#111" stroke-width="1.1"/>
<line x1="275.50" y1="522.84" x2="270.70" y2="530.51" stroke="#111" stroke-width="1.1"/>
<line x1="317.40" y1="522.84" x2="351.50" y2="530.51" stroke="#111" stroke-width="1.1"/>
<line x1="346.60" y1="522.84" x2="434.20" y2="530.51" stroke="#111" stroke-width="1.1"/>
<line x1="452.60" y1="522.84" x2="551.70" y2="530.51" stroke="#111" stroke-width="1.1"/>
<line x1="148.50" y1="561.21" x2="103.50" y2="568.89" stroke="#111" stroke-width="1.1"/>
<line x1="270.70" y1="561.21" x2="261.70" y2="568.89" stroke="#111" stroke-width="1.1"/>
<line x1="351.50" y1="561.21" x2="338.50" y2="568.89" stroke="#111" stroke-width="1.1"/>
<line x1="434.20" y1="561.21" x2="380.00" y2="568.89" stroke="#111" stroke-width="1.1"/>
<line x1="551.70" y1="561.21" x2="500.50" y2="568.89" stroke="#111" stroke-width="1.1"/>
<line x1="103.50" y1="599.59" x2="143.30" y2="607.26" stroke="#111" stroke-width="1.1"/>
<line x1="261.70" y1="599.59" x2="263.80" y2="607.26" stroke="#111" stroke-width="1.1"/>
<line x1="338.50" y1="599.59" x2="356.70" y2="607.26" stroke="#111" stroke-width="1.1"/>
<line x1="380.00" y1="599.59" x2="435.50" y2="607.26" stroke="#111" stroke-width="1.1"/>
<line x1="500.50" y1="599.59" x2="552.10" y2="607.26" stroke="#111" stroke-width="1.1"/>
<line x1="143.30" y1="637.96" x2="120.60" y2="645.64" stroke="#111" stroke-width="1.1"/>
<line x1="263.80" y1="637.96" x2="265.30" y2="645.64" stroke="#111" stroke-width="1.1"/>
<line x1="356.70" y1="637.96" x2="341.00" y2="645.64" stroke="#111" stroke-width="1.1"/>
<line x1="435.50" y1="637.96" x2="396.50" y2="645.64" stroke="#111" stroke-width="1.1"/>
<line x1="552.10" y1="637.96" x2="522.50" y2="645.64" stroke="#111" stroke-width="1.1"/>
<line x1="120.60" y1="676.34" x2="123.40" y2="684.01" stroke="#111" stroke-width="1.1"/>
<line x1="265.30" y1="676.34" x2="262.90" y2="684.01" stroke="#111" stroke-width="1.1"/>
<line x1="341.00" y1="676.34" x2="346.60" y2="684.01" stroke="#111" stroke-width="1.1"/>
<line x1="396.50" y1="676.34" x2="404.80" y2="684.01" stroke="#111" stroke-width="1.1"/>
<line x1="522.50" y1="676.34" x2="529.30" y2="684.01" stroke="#111" stroke-width="1.1"/>
<line x1="123.40" y1="714.71" x2="122.70" y2="722.39" stroke="#111" stroke-width="1.1"/>
<line x1="262.90" y1="714.71" x2="263.80" y2="722.39" stroke="#111" stroke-width="1.1"/>
<line x1="346.60" y1="714.71" x2="344.10" y2="722.39" stroke="#111" stroke-width="1.1"/>
<line x1="404.80" y1="714.71" x2="402.70" y2="722.39" stroke="#111" stroke-width="1.1"/>
<line x1="529.30" y1="714.71" x2="527.40" y2="722.39" stroke="#111" stroke-width="1.1"/>
<line x1="122.70" y1="753.09" x2="118.80" y2="760.76" stroke="#111" stroke-width="1.1"/>
<line x1="263.80" y1="753.09" x2="263.80" y2="760.76" stroke="#111" stroke-width="1.1"/>
<line x1="344.10" y1="753.09" x2="342.00" y2="760.76" stroke="#111" stroke-width="1.1"/>
<line x1="402.70" y1="753.09" x2="396.50" y2="760.76" stroke="#111" stroke-width="1.1"/>
<line x1="527.40" y1="753.09" x2="521.70" y2="760.76" stroke="#111" stroke-width="1.1"/>
<line x1="118.80" y1="791.46" x2="120.90" y2="799.14" stroke="#111" stroke-width="1.1"/>
<line x1="263.80" y1="791.46" x2="266.20" y2="799.14" stroke="#111" stroke-width="1.1"/>
<line x1="342.00" y1="791.46" x2="339.50" y2="799.14" stroke="#111" stroke-width="1.1"/>
<line x1="396.50" y1="791.46" x2="395.30" y2="799.14" stroke="#111" stroke-width="1.1"/>
<line x1="521.70" y1="791.46" x2="521.30" y2="799.14" stroke="#111" stroke-width="1.1"/>
<line x1="120.90" y1="829.84" x2="106.50" y2="837.51" stroke="#111" stroke-width="1.1"/>
<line x1="266.20" y1="829.84" x2="263.50" y2="837.51" stroke="#111" stroke-width="1.1"/>
<line x1="339.50" y1="829.84" x2="337.70" y2="837.51" stroke="#111" stroke-width="1.1"/>
<line x1="395.30" y1="829.84" x2="380.60" y2="837.51" stroke="#111" stroke-width="1.1"/>
<line x1="521.30" y1="829.84" x2="503.90" y2="837.51" stroke="#111" stroke-width="1.1"/>
<line x1="106.50" y1="868.21" x2="148.50" y2="875.89" stroke="#111" stroke-width="1.1"/>
<line x1="263.50" y1="868.21" x2="286.50" y2="875.89" stroke="#111" stroke-width="1.1"/>
<line x1="337.70" y1="868.21" x2="336.80" y2="875.89" stroke="#111" stroke-width="1.1"/>
<line x1="380.60" y1="868.21" x2="408.20" y2="875.89" stroke="#111" stroke-width="1.1"/>
<line x1="503.90" y1="868.21" x2="532.70" y2="875.89" stroke="#111" stroke-width="1.1"/>
<line x1="148.50" y1="906.59" x2="126.10" y2="914.26" stroke="#111" stroke-width="1.1"/>
<line x1="286.50" y1="906.59" x2="265.60" y2="914.26" stroke="#111" stroke-width="1.1"/>
<line x1="336.80" y1="906.59" x2="343.20" y2="914.26" stroke="#111" stroke-width="1.1"/>
<line x1="408.20" y1="906.59" x2="403.90" y2="914.26" stroke="#111" stroke-width="1.1"/>
<line x1="532.70" y1="906.59" x2="529.30" y2="914.26" stroke="#111" stroke-width="1.1"/>
<path d="M58.3,488.3 L58.3,948.8 L673.6,948.8 L673.6,488.3 Z" fill="none" stroke="#1a1a1a" stroke-width="1.2"/>
<line x1="53.0" y1="488.3" x2="58.3" y2="488.3" stroke="#1a1a1a" stroke-width="1.2"/>
<line x1="53.0" y1="948.8" x2="58.3" y2="948.8" stroke="#1a1a1a" stroke-width="1.2"/>
<line x1="53.2" y1="526.67" x2="62.7" y2="526.67" stroke="#1a1a1a" stroke-width="1.2"/>
<line x1="53.2" y1="565.05" x2="62.7" y2="565.05" stroke="#1a1a1a" stroke-width="1.2"/>
<line x1="53.2" y1="603.42" x2="62.7" y2="603.42" stroke="#1a1a1a" stroke-width="1.2"/>
<line x1="53.2" y1="641.80" x2="62.7" y2="641.80" stroke="#1a1a1a" stroke-width="1.2"/>
<line x1="53.2" y1="680.17" x2="62.7" y2="680.17" stroke="#1a1a1a" stroke-width="1.2"/>
<line x1="53.2" y1="718.55" x2="62.7" y2="718.55" stroke="#1a1a1a" stroke-width="1.2"/>
<line x1="53.2" y1="756.92" x2="62.7" y2="756.92" stroke="#1a1a1a" stroke-width="1.2"/>
<line x1="53.2" y1="795.30" x2="62.7" y2="795.30" stroke="#1a1a1a" stroke-width="1.2"/>
<line x1="53.2" y1="833.67" x2="62.7" y2="833.67" stroke="#1a1a1a" stroke-width="1.2"/>
<line x1="53.2" y1="872.05" x2="62.7" y2="872.05" stroke="#1a1a1a" stroke-width="1.2"/>
<line x1="53.2" y1="910.42" x2="62.7" y2="910.42" stroke="#1a1a1a" stroke-width="1.2"/>
<line x1="58.30" y1="948.8" x2="58.30" y2="957.5999999999999" stroke="#1a1a1a" stroke-width="1.2"/>
<text x="58.30" y="970.9" font-size="16" font-weight="normal" fill="#111" text-anchor="middle">0</text>
<line x1="82.91" y1="948.8" x2="82.91" y2="953.8" stroke="#1a1a1a" stroke-width="1.2"/>
<line x1="107.52" y1="948.8" x2="107.52" y2="953.8" stroke="#1a1a1a" stroke-width="1.2"/>
<line x1="132.14" y1="948.8" x2="132.14" y2="953.8" stroke="#1a1a1a" stroke-width="1.2"/>
<line x1="156.75" y1="948.8" x2="156.75" y2="953.8" stroke="#1a1a1a" stroke-width="1.2"/>
<line x1="181.36" y1="948.8" x2="181.36" y2="957.5999999999999" stroke="#1a1a1a" stroke-width="1.2"/>
<text x="181.36" y="970.9" font-size="16" font-weight="normal" fill="#111" text-anchor="middle">20</text>
<line x1="205.97" y1="948.8" x2="205.97" y2="953.8" stroke="#1a1a1a" stroke-width="1.2"/>
<line x1="230.58" y1="948.8" x2="230.58" y2="953.8" stroke="#1a1a1a" stroke-width="1.2"/>
<line x1="255.20" y1="948.8" x2="255.20" y2="953.8" stroke="#1a1a1a" stroke-width="1.2"/>
<line x1="279.81" y1="948.8" x2="279.81" y2="953.8" stroke="#1a1a1a" stroke-width="1.2"/>
<line x1="304.42" y1="948.8" x2="304.42" y2="957.5999999999999" stroke="#1a1a1a" stroke-width="1.2"/>
<text x="304.42" y="970.9" font-size="16" font-weight="normal" fill="#111" text-anchor="middle">40</text>
<line x1="329.03" y1="948.8" x2="329.03" y2="953.8" stroke="#1a1a1a" stroke-width="1.2"/>
<line x1="353.64" y1="948.8" x2="353.64" y2="953.8" stroke="#1a1a1a" stroke-width="1.2"/>
<line x1="378.26" y1="948.8" x2="378.26" y2="953.8" stroke="#1a1a1a" stroke-width="1.2"/>
<line x1="402.87" y1="948.8" x2="402.87" y2="953.8" stroke="#1a1a1a" stroke-width="1.2"/>
<line x1="427.48" y1="948.8" x2="427.48" y2="957.5999999999999" stroke="#1a1a1a" stroke-width="1.2"/>
<text x="427.48" y="970.9" font-size="16" font-weight="normal" fill="#111" text-anchor="middle">60</text>
<line x1="452.09" y1="948.8" x2="452.09" y2="953.8" stroke="#1a1a1a" stroke-width="1.2"/>
<line x1="476.70" y1="948.8" x2="476.70" y2="953.8" stroke="#1a1a1a" stroke-width="1.2"/>
<line x1="501.32" y1="948.8" x2="501.32" y2="953.8" stroke="#1a1a1a" stroke-width="1.2"/>
<line x1="525.93" y1="948.8" x2="525.93" y2="953.8" stroke="#1a1a1a" stroke-width="1.2"/>
<line x1="550.54" y1="948.8" x2="550.54" y2="957.5999999999999" stroke="#1a1a1a" stroke-width="1.2"/>
<text x="550.54" y="970.9" font-size="16" font-weight="normal" fill="#111" text-anchor="middle">80</text>
<line x1="575.15" y1="948.8" x2="575.15" y2="953.8" stroke="#1a1a1a" stroke-width="1.2"/>
<line x1="599.76" y1="948.8" x2="599.76" y2="953.8" stroke="#1a1a1a" stroke-width="1.2"/>
<line x1="624.38" y1="948.8" x2="624.38" y2="953.8" stroke="#1a1a1a" stroke-width="1.2"/>
<line x1="648.99" y1="948.8" x2="648.99" y2="953.8" stroke="#1a1a1a" stroke-width="1.2"/>
<line x1="673.60" y1="948.8" x2="673.60" y2="957.5999999999999" stroke="#1a1a1a" stroke-width="1.2"/>
<text x="673.60" y="970.9" font-size="16" font-weight="normal" fill="#111" text-anchor="middle">100</text>
<text x="366.4" y="990.2" font-size="23.8" font-weight="bold" fill="#111" text-anchor="middle" textLength="175" lengthAdjust="spacing">Composition (%)</text>
<text transform="translate(17.2,718.8) rotate(-90)" text-anchor="middle" font-size="24" font-weight="bold" fill="#111" textLength="138.7" lengthAdjust="spacing">Sampling site</text>
<text x="660.9" y="991.0" font-size="29" font-weight="bold" fill="#111" text-anchor="end" textLength="36.8" lengthAdjust="spacing">(b)</text>
<rect x="54.8" y="1001.4" width="619.8" height="56.9" fill="#fdfdfd" stroke="#c4c4c4" stroke-width="1"/>
<rect x="58.6" y="1005.8" width="40.8" height="19.6" fill="#FDB6F7" stroke="#444" stroke-width="1"/>
<text x="104.0" y="1020.7" font-size="16" font-weight="normal" fill="#111" text-anchor="start" textLength="100.7" lengthAdjust="spacing">Natural source</text>
<rect x="217.6" y="1005.8" width="40.8" height="19.6" fill="#9CB9F1" stroke="#444" stroke-width="1"/>
<text x="264.4" y="1019.7" font-size="16" font-weight="normal" fill="#111" text-anchor="start" textLength="176.5" lengthAdjust="spacing">Anthropogenic emissions</text>
<rect x="453.6" y="1005.8" width="40.8" height="19.6" fill="#FFFF9F" stroke="#444" stroke-width="1"/>
<text x="498.9" y="1020.7" font-size="16" font-weight="normal" fill="#111" text-anchor="start" textLength="42.1" lengthAdjust="spacing">Plants</text>
<rect x="554.1" y="1005.8" width="40.8" height="19.6" fill="#C2AFD5" stroke="#444" stroke-width="1"/>
<text x="601.3" y="1020.7" font-size="16" font-weight="normal" fill="#111" text-anchor="start" textLength="64.0" lengthAdjust="spacing">Fertilizer</text>
<rect x="58.6" y="1035.1" width="40.8" height="19.6" fill="#A0D69D" stroke="#444" stroke-width="1"/>
<text x="104.0" y="1050.5" font-size="16" font-weight="normal" fill="#111" text-anchor="start" textLength="253.0" lengthAdjust="spacing">Nonexhaust emissions from vehicles</text>
<rect x="422.7" y="1035.1" width="40.8" height="19.6" fill="#FAC898" stroke="#444" stroke-width="1"/>
<text x="470.2" y="1050.5" font-size="16" font-weight="normal" fill="#111" text-anchor="start" textLength="141.5" lengthAdjust="spacing">Vehicle tire abrasion</text>
</svg>
</body></html>
